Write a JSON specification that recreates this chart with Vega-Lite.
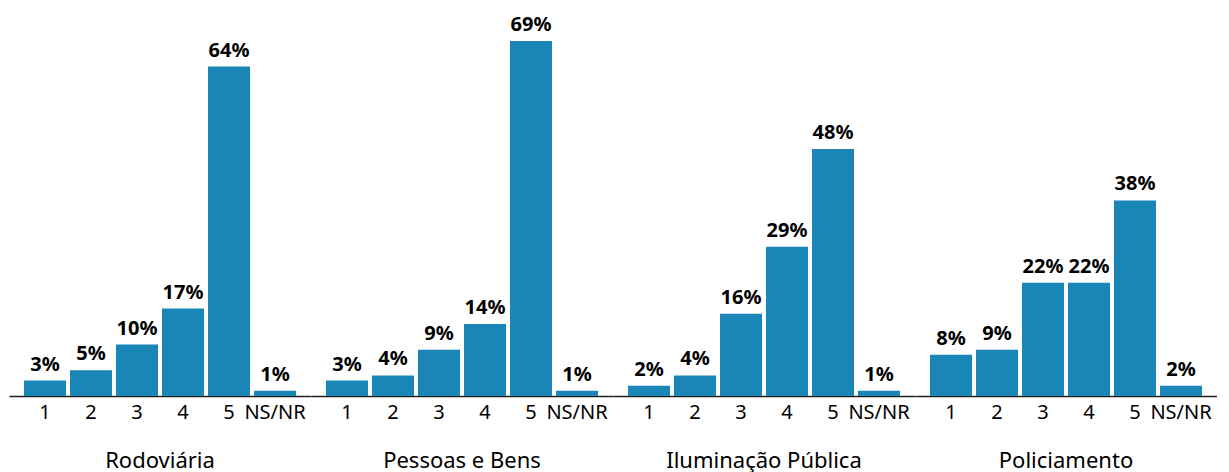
{
  "$schema": "https://vega.github.io/schema/vega-lite/v6.json",
  "padding": {"left": 9, "top": 10, "right": 0, "bottom": 0},
  "autosize": {"type": "pad"},
  "data": {
    "values": [
      {"group": "Rodoviária", "cat": "1", "value": 0.03},
      {"group": "Rodoviária", "cat": "2", "value": 0.05},
      {"group": "Rodoviária", "cat": "3", "value": 0.10},
      {"group": "Rodoviária", "cat": "4", "value": 0.17},
      {"group": "Rodoviária", "cat": "5", "value": 0.64},
      {"group": "Rodoviária", "cat": "NS/NR", "value": 0.01},
      {"group": "Pessoas e Bens", "cat": "1", "value": 0.03},
      {"group": "Pessoas e Bens", "cat": "2", "value": 0.04},
      {"group": "Pessoas e Bens", "cat": "3", "value": 0.09},
      {"group": "Pessoas e Bens", "cat": "4", "value": 0.14},
      {"group": "Pessoas e Bens", "cat": "5", "value": 0.69},
      {"group": "Pessoas e Bens", "cat": "NS/NR", "value": 0.01},
      {"group": "Iluminação Pública", "cat": "1", "value": 0.02},
      {"group": "Iluminação Pública", "cat": "2", "value": 0.04},
      {"group": "Iluminação Pública", "cat": "3", "value": 0.16},
      {"group": "Iluminação Pública", "cat": "4", "value": 0.29},
      {"group": "Iluminação Pública", "cat": "5", "value": 0.48},
      {"group": "Iluminação Pública", "cat": "NS/NR", "value": 0.01},
      {"group": "Policiamento", "cat": "1", "value": 0.08},
      {"group": "Policiamento", "cat": "2", "value": 0.09},
      {"group": "Policiamento", "cat": "3", "value": 0.22},
      {"group": "Policiamento", "cat": "4", "value": 0.22},
      {"group": "Policiamento", "cat": "5", "value": 0.38},
      {"group": "Policiamento", "cat": "NS/NR", "value": 0.02}
    ]
  },
  "facet": {
    "column": {
      "field": "group",
      "type": "nominal",
      "sort": ["Rodoviária", "Pessoas e Bens", "Iluminação Pública", "Policiamento"],
      "title": null,
      "header": {
        "labelOrient": "bottom",
        "labelFont": "Noto Sans",
        "labelFontSize": 22,
        "labelColor": "#000000",
        "labelPadding": 29
      }
    }
  },
  "spacing": 0,
  "spec": {
    "width": 302,
    "height": 386,
    "encoding": {
      "x": {
        "field": "cat",
        "type": "ordinal",
        "sort": ["1", "2", "3", "4", "5", "NS/NR"],
        "scale": {"paddingInner": 0.087, "paddingOuter": 0.326},
        "axis": {
          "title": null,
          "labelAngle": 0,
          "ticks": false,
          "domainColor": "#222222",
          "domainWidth": 1.5,
          "labelFont": "Noto Sans",
          "labelFontSize": 20,
          "labelColor": "#000000",
          "labelPadding": 6
        }
      },
      "y": {
        "field": "value",
        "type": "quantitative",
        "scale": {"domain": [0, 0.75]},
        "axis": null
      }
    },
    "layer": [
      {"mark": {"type": "bar", "color": "#1a85b7"}},
      {
        "mark": {
          "type": "text",
          "baseline": "alphabetic",
          "dy": -10,
          "font": "Noto Sans",
          "fontSize": 20,
          "fontWeight": "bold",
          "color": "#000000"
        },
        "encoding": {"text": {"field": "value", "type": "quantitative", "format": ".0%"}}
      }
    ]
  },
  "config": {"view": {"stroke": null}}
}
